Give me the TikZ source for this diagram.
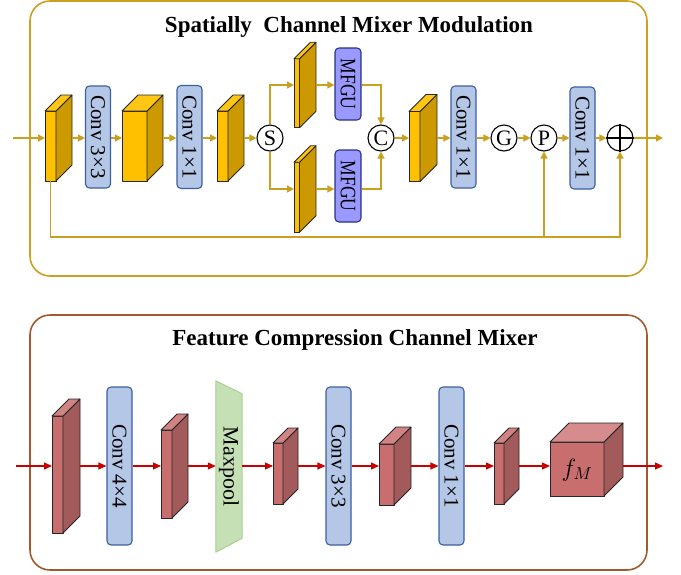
\documentclass[tikz,border=0pt]{standalone}
\usepackage{fontspec}
\setmainfont{Liberation Serif}
\usetikzlibrary{arrows.meta,calc}

\definecolor{gold}{RGB}{201,160,32}
\definecolor{goldfront}{RGB}{255,192,0}
\definecolor{goldside}{RGB}{204,153,0}
\definecolor{goldtop}{RGB}{255,198,20}
\definecolor{redfront}{RGB}{200,110,110}
\definecolor{redside}{RGB}{162,90,90}
\definecolor{redtop}{RGB}{210,132,132}
\definecolor{cubetop}{RGB}{214,140,140}
\definecolor{redline}{RGB}{200,0,0}
\definecolor{brownframe}{RGB}{160,90,45}
\definecolor{convfill}{RGB}{180,199,231}
\definecolor{convdraw}{RGB}{60,95,160}
\definecolor{mfgufill}{RGB}{153,153,255}
\definecolor{mfgudraw}{RGB}{40,50,130}
\definecolor{poolfill}{RGB}{197,224,180}
\definecolor{pooldraw}{RGB}{169,209,142}

\tikzset{
  slabline/.style={draw=black!85, line width=0.8pt, line join=round},
  garrow/.style={draw=gold, line width=1.4pt, -{Triangle[length=7pt,width=7pt]}},
  rarrow/.style={draw=redline, line width=1.2pt, -{Triangle[length=8pt,width=7pt]}},
  convbox/.style={rounded corners=4pt, fill=convfill, draw=convdraw, line width=1.1pt,
    inner sep=0pt, minimum width=25pt, font=\fontsize{21}{21}\selectfont},
  mfgubox/.style={rounded corners=4pt, fill=mfgufill, draw=mfgudraw, line width=1.1pt,
    inner sep=0pt, minimum width=26pt, minimum height=72pt, font=\fontsize{22}{22}\selectfont},
  opcirc/.style={circle, draw=black, line width=1.1pt, fill=white, minimum size=26pt,
    inner sep=0pt, font=\fontsize{22}{22}\selectfont},
  frame/.style={rounded corners=20pt, line width=1.6pt, inner sep=0pt},
  title/.style={anchor=base, font=\fontsize{23}{23}\selectfont\bfseries},
}

% #1 name, #2 centre, #3 front width, #4 front height, #5 depth,
% #6 front colour, #7 side colour, #8 top colour
\newcommand\slab[8]{%
  \node[inner sep=0pt, outer sep=0pt, minimum width={(#3+#5)*1pt},
        minimum height={(#4+#5)*1pt}] (#1) at (#2) {};
  \filldraw[slabline, fill=#6] (#1.south west) rectangle ++(#3pt,#4pt);
  \filldraw[slabline, fill=#7] ($(#1.south west)+(#3pt,0)$) -- ++(#5pt,#5pt)
      -- (#1.north east) -- ++(-#5pt,-#5pt) -- cycle;
  \filldraw[slabline, fill=#8] ($(#1.south west)+(0,#4pt)$) -- ++(#3pt,0)
      -- (#1.north east) -- ++(-#3pt,0) -- cycle;
  \coordinate (#1-fb) at ($(#1.south west)+(#3pt/2,0)$);
}

\begin{document}
\begin{tikzpicture}[x=1pt, y=-1pt]
\useasboundingbox (0,0) rectangle (681,574);

% ---------------- Spatially Channel Mixer Modulation ----------------
\node[frame, draw=gold, minimum width=617pt, minimum height=275pt] (topframe) at (338.5,138.5) {};
\node[title] (t1) at (349,32) {Spatially\ \ Channel Mixer Modulation};

\slab{s1}{58.5,138}{11}{70}{16}{goldfront}{goldside}{goldtop}
\node[convbox, minimum height=102pt] (c1) at (98,137) {\rotatebox{-90}{Conv 3×3}};
\slab{s2}{142.5,138}{25}{70}{16}{goldfront}{goldside}{goldtop}
\node[convbox, minimum height=103pt] (c2) at (189.5,137) {\rotatebox{-90}{Conv 1×1}};
\slab{s3}{230.5,138}{11}{70}{16}{goldfront}{goldside}{goldtop}
\node[opcirc] (S) at (270,138) {S};

\slab{su}{305,85}{5.5}{69}{16.5}{goldfront}{goldside}{goldtop}
\slab{sl}{305,189}{5.5}{70}{16.5}{goldfront}{goldside}{goldtop}
\node[mfgubox] (m1) at (348,84) {\rotatebox{-90}{\scalebox{0.8}[1]{MFGU}}};
\node[mfgubox] (m2) at (348,186) {\rotatebox{-90}{\scalebox{0.8}[1]{MFGU}}};

\node[opcirc] (C) at (381,138) {C};
\slab{s4}{423,138}{11}{70}{17}{goldfront}{goldside}{goldtop}
\node[convbox, minimum height=102pt] (c3) at (463.5,137) {\rotatebox{-90}{Conv 1×1}};
\node[opcirc] (G) at (504,138) {G};
\node[opcirc] (P) at (544,138) {P};
\node[convbox, minimum height=102pt] (c4) at (582.5,138) {\rotatebox{-90}{Conv 1×1}};
\node[opcirc] (plus) at (620,138) {};
\draw[line width=1.1pt] (plus.north) -- (plus.south) (plus.west) -- (plus.east);

\coordinate (in1) at (13,138);
\coordinate (out1) at (663,138);

\draw[garrow] (in1) -- (s1.west);
\draw[garrow] (s1.east) -- (s1.east -| c1.west);
\draw[garrow] (c1.east |- s1.east) -- (s2.west);
\draw[garrow] (s2.east) -- (s2.east -| c2.west);
\draw[garrow] (c2.east |- s2.east) -- (s3.west);
\draw[garrow] (s3.east) -- (S.west);
\draw[garrow] (S.north) |- (su.west);
\draw[garrow] (S.south) |- (sl.west);
\draw[garrow] (su.east) -- (su.east -| m1.west);
\draw[garrow] (sl.east) -- (sl.east -| m2.west);
\draw[garrow] (m1.east |- su.east) -| (C.north);
\draw[garrow] (m2.east |- sl.east) -| (C.south);
\draw[garrow] (C.east) -- (s4.west);
\draw[garrow] (s4.east) -- (s4.east -| c3.west);
\draw[garrow] (c3.east |- G.west) -- (G.west);
\draw[garrow] (G.east) -- (P.west);
\draw[garrow] (P.east) -- (P.east -| c4.west);
\draw[garrow] (c4.east |- plus.west) -- (plus.west);
\draw[garrow] (plus.east) -- (out1);

% residual path under the block
\coordinate (skipL) at ($(s1-fb)+(0,-56pt)$);
\draw[garrow] (s1-fb) -- (skipL) -| (plus.south);
\draw[garrow] (skipL -| P.south) -- (P.south);

% ---------------- Feature Compression Channel Mixer ----------------
\node[frame, draw=brownframe, minimum width=617pt, minimum height=255pt] (botframe) at (338.5,442.5) {};
\node[title] (t2) at (355,345) {Feature Compression Channel Mixer};

\slab{b1}{66,466}{11}{117}{17}{redfront}{redside}{redtop}
\node[convbox, minimum height=158pt] (bc1) at (119.5,466) {\rotatebox{-90}{Conv 4×4}};
\slab{b2}{174.5,466}{11}{88}{16}{redfront}{redside}{redtop}

\node[inner sep=0pt, minimum width=26pt, minimum height=171pt] (pool) at (229,466.5) {};
\filldraw[fill=poolfill, draw=pooldraw, line width=1pt, line join=round]
  (pool.north west) -- ($(pool.north east)+(0,-13pt)$) -- ($(pool.south east)+(0,14pt)$)
  -- (pool.south west) -- cycle;
\node[font=\fontsize{22}{22}\selectfont] (poollabel) at (pool) {\rotatebox{-90}{Maxpool}};

\slab{b3}{285.5,466}{10}{61}{15}{redfront}{redside}{redtop}
\node[convbox, minimum height=158pt] (bc2) at (338.5,466) {\rotatebox{-90}{Conv 3×3}};
\slab{b4}{395,466}{15}{61}{17}{redfront}{redside}{redtop}
\node[convbox, minimum height=158pt] (bc3) at (451.5,466) {\rotatebox{-90}{Conv 1×1}};
\slab{b5}{506.5,466}{10}{61}{15}{redfront}{redside}{redtop}
\slab{cube}{586.5,459.5}{54}{54}{19}{redfront}{redside}{cubetop}
\node[font=\fontsize{26}{26}\selectfont] (fm) at ($(cube.south west)+(27pt,26pt)$) {$f_M$};

\coordinate (in2) at (16,466);
\coordinate (out2) at (663,466);

\draw[rarrow] (in2) -- (b1.west);
\draw[rarrow] (b1.east) -- (bc1.west);
\draw[rarrow] (bc1.east) -- (b2.west);
\draw[rarrow] (b2.east) -- (b2.east -| pool.west);
\draw[rarrow] (pool.east |- b3.west) -- (b3.west);
\draw[rarrow] (b3.east) -- (bc2.west);
\draw[rarrow] (bc2.east) -- (b4.west);
\draw[rarrow] (b4.east) -- (bc3.west);
\draw[rarrow] (bc3.east) -- (b5.west);
\draw[rarrow] (b5.east) -- (b5.east -| cube.west);
\draw[rarrow] (cube.east |- b5.east) -- (out2);
\end{tikzpicture}
\end{document}
